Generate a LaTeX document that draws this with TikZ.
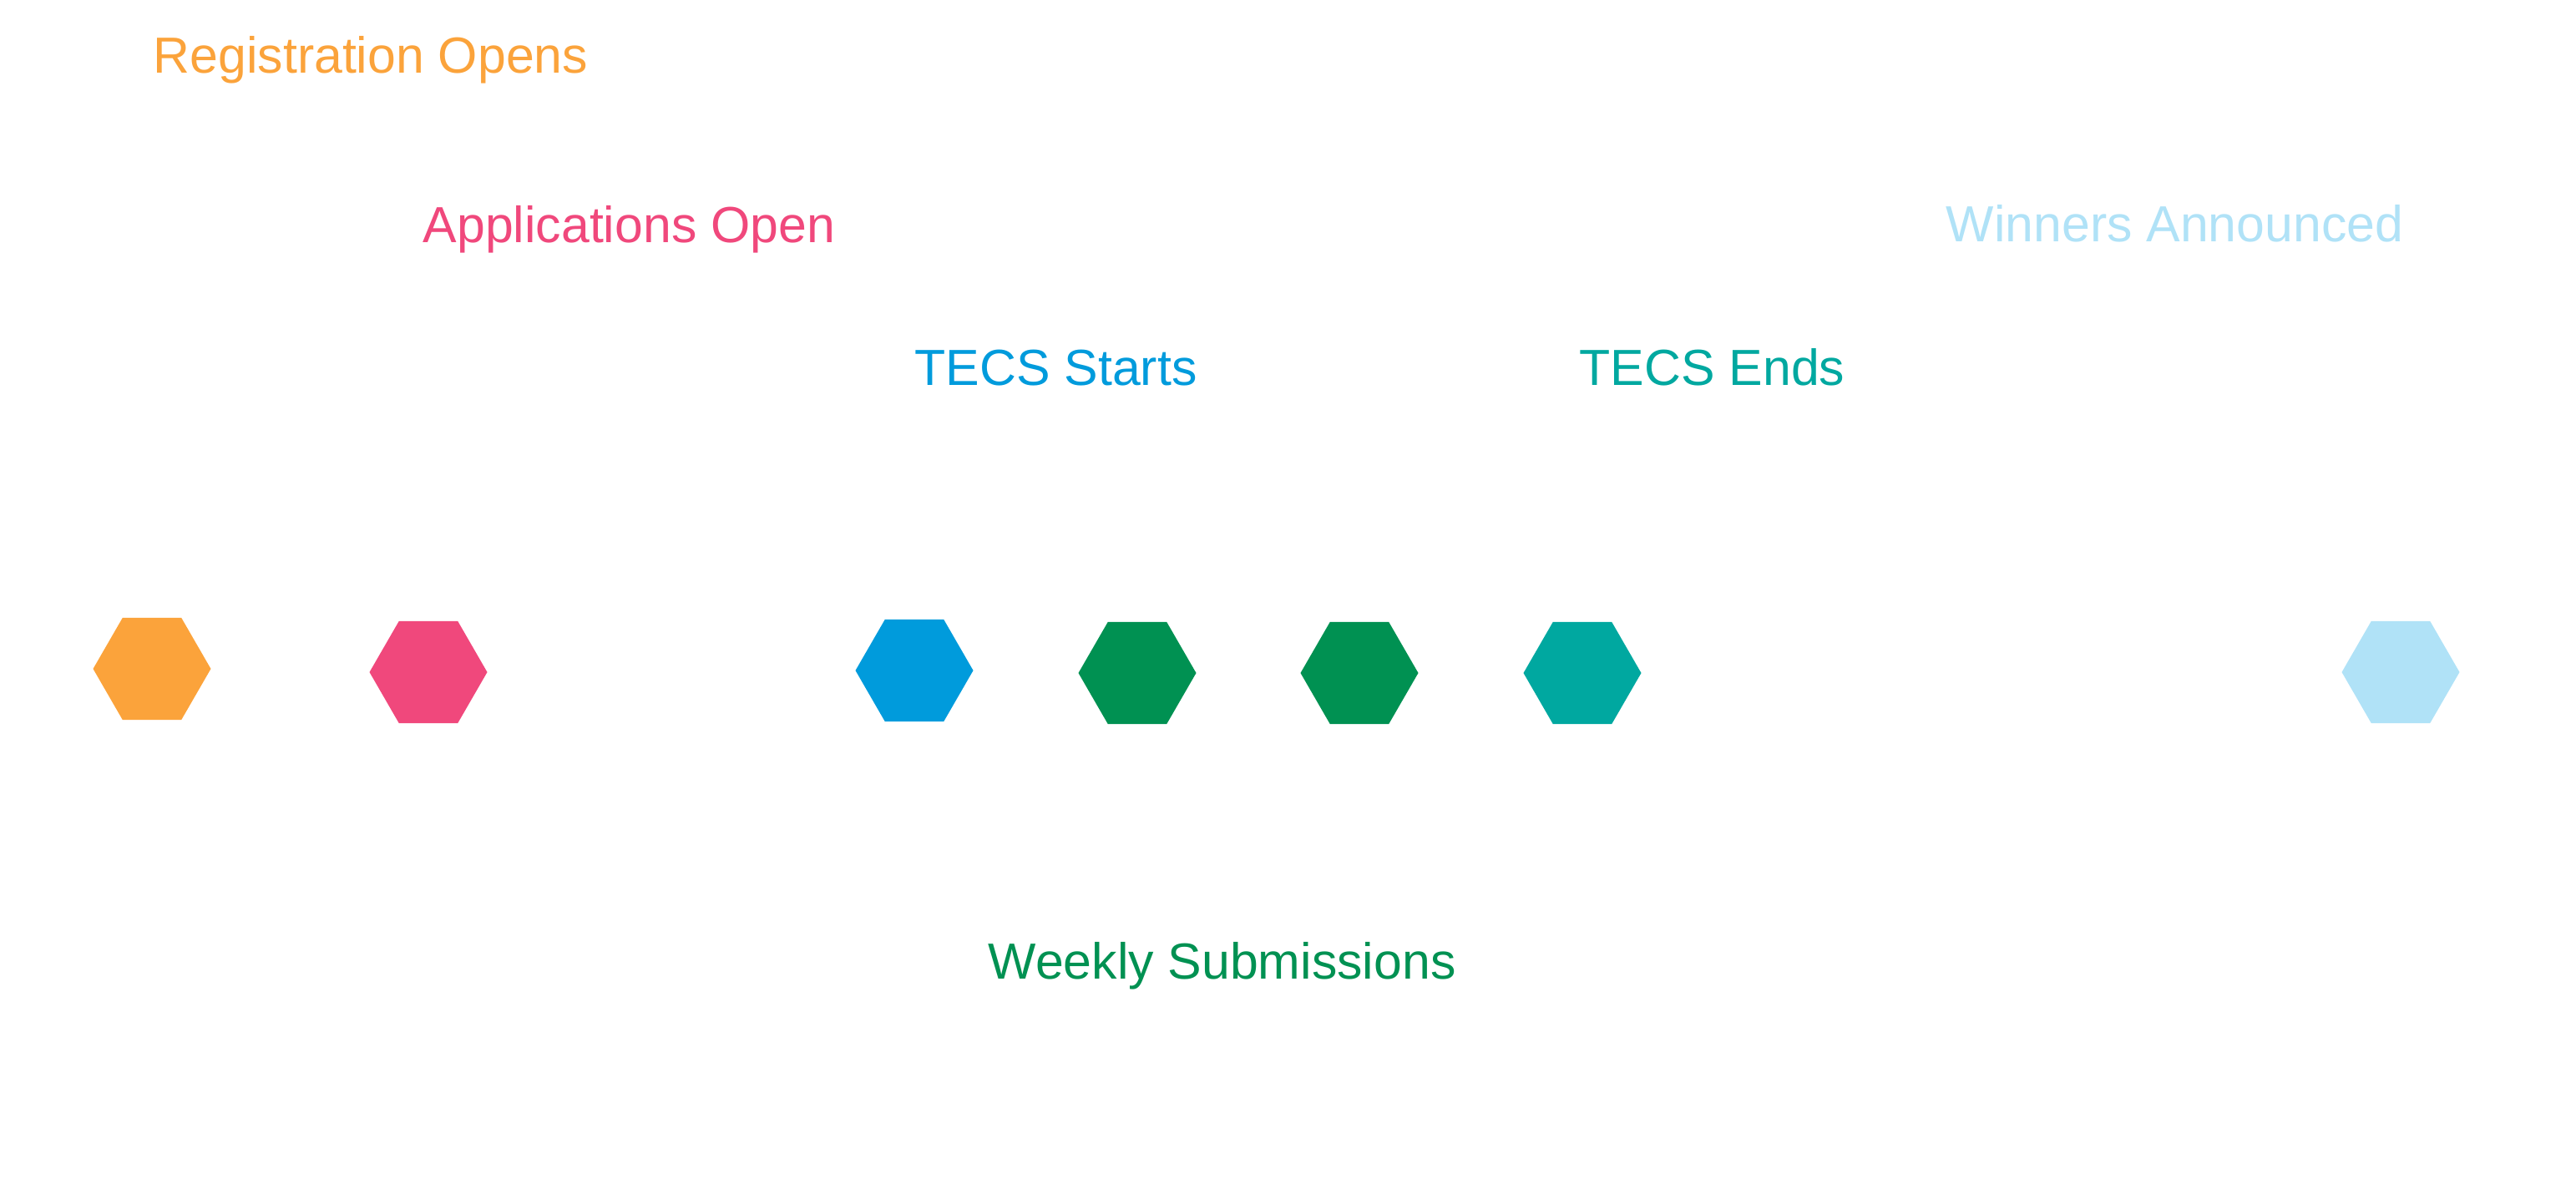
\documentclass[tikz,border=0pt]{standalone}
\usepackage{fontspec}
\setmainfont{Liberation Sans}
\usepackage{tikz}
\usetikzlibrary{shapes}
\usetikzlibrary{shapes.geometric}
\usetikzlibrary{positioning}

\definecolor{regorange}{HTML}{FBA33B}
\definecolor{apppink}{HTML}{F0487C}
\definecolor{startblue}{HTML}{009BDC}
\definecolor{weekgreen}{HTML}{009152}
\definecolor{endteal}{HTML}{00A8A0}
\definecolor{winblue}{HTML}{B0E2F7}

\begin{document}
\begin{tikzpicture}[
        hexnode/.style={regular polygon, regular polygon sides=6, minimum size=1.41cm, inner sep=0pt, fill=#1},
        lbl/.style={anchor=base west, inner sep=0pt, font=\fontsize{17.3}{20}\selectfont, text=#1}
    ]
        \useasboundingbox (0,0) rectangle (30.85,-14.12);
        % hexagons
        \node[hexnode=regorange]    (hreg)   at (1.82,-8.01)  {};
        \node[hexnode=apppink]      (happ)   at (5.13,-8.05)  {};
        \node[hexnode=startblue]    (hstart) at (10.95,-8.03) {};
        \node[hexnode=weekgreen]    (hweekA) at (13.62,-8.06) {};
        \node[hexnode=weekgreen]    (hweekB) at (16.28,-8.06) {};
        \node[hexnode=endteal]      (hend)   at (18.95,-8.06) {};
        \node[hexnode=winblue]      (hwin)   at (28.75,-8.05) {};
        % labels
        \node[lbl=regorange]  (treg)   at (1.83,-0.88)  {Registration Opens};
        \node[lbl=apppink]    (tapp)   at (5.06,-2.91)  {Applications Open};
        \node[lbl=winblue]    (twin)   at (23.30,-2.90) {Winners Announced};
        \node[lbl=startblue]  (tstart) at (10.95,-4.62) {TECS Starts};
        \node[lbl=endteal]    (tend)   at (18.91,-4.62) {TECS Ends};
        \node[lbl=weekgreen]  (tweek)  at (11.83,-11.72) {Weekly Submissions};
    \end{tikzpicture}
\end{document}
